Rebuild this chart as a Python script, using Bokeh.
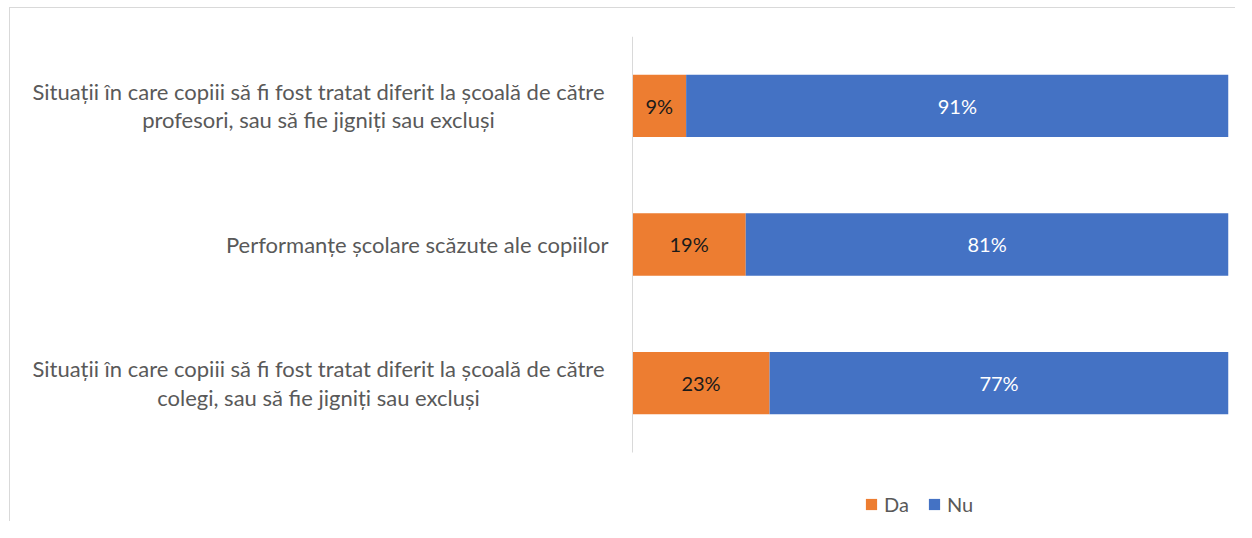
from bokeh.plotting import figure
from bokeh.models import (ColumnDataSource, Range1d, Legend, LegendItem, FixedTicker,
                          CDSView, IndexFilter)
from bokeh.core.properties import value
from bokeh.embed import file_html
from bokeh.resources import INLINE

# bottom -> top
categories = [
    "Situații în care copiii să fi fost tratat diferit la școală de către\ncolegi, sau să fie jigniți sau excluși",
    "Performanțe școlare scăzute ale copiilor",
    "Situații în care copiii să fi fost tratat diferit la școală de către\nprofesori, sau să fie jigniți sau excluși",
]
da = [23, 19, 9]
nu = [77, 81, 91]
series = ["Da", "Nu"]
colors = ["#ED7D31", "#4472C4"]

FONT = "Lato"
n = len(categories)

src = ColumnDataSource(dict(
    y=[i + 0.5 for i in range(n)],
    x0=[0] * n,
    cat=categories,
    Da=da,
    Nu=nu,
    da_mid=[d / 2 for d in da],
    nu_mid=[d + v / 2 for d, v in zip(da, nu)],
    da_lab=[f"{d}%" for d in da],
    nu_lab=[f"{v}%" for v in nu],
))

p = figure(
    width=1226, height=514,
    y_range=Range1d(-0.505, n),
    x_range=Range1d(-104.36, 100),
    output_backend="svg", toolbar_location=None,
    min_border_left=0, min_border_right=8, min_border_top=28, min_border_bottom=0,
)
p.styles = {"margin-left": "9px", "margin-top": "7px",
            "border-left": "1px solid #d9d9d9", "border-top": "1px solid #d9d9d9"}
p.outline_line_color = None
p.xgrid.visible = False
p.ygrid.visible = False
p.xaxis.visible = False

rs = p.hbar_stack(series, y="y", height=0.45, color=colors, source=src, line_color=None)

p.text(x="da_mid", y="y", text="da_lab", source=src, text_align="center", text_baseline="middle",
       text_font=value(FONT), text_font_size="20px", text_color="#1a1a1a")
p.text(x="nu_mid", y="y", text="nu_lab", source=src, text_align="center", text_baseline="middle",
       text_font=value(FONT), text_font_size="20px", text_color="#ffffff")

# category labels: multi-line ones centred as a block, single-line ones right-aligned
multi = [i for i, c in enumerate(categories) if "\n" in c]
single = [i for i, c in enumerate(categories) if "\n" not in c]
p.text(x="x0", y="y", text="cat", source=src, view=CDSView(filter=IndexFilter(multi)),
       text_align="center", text_baseline="middle", x_offset=-314, text_line_height=1.05,
       text_font=value(FONT), text_font_size="22px", text_color="#595959")
p.text(x="x0", y="y", text="cat", source=src, view=CDSView(filter=IndexFilter(single)),
       text_align="right", text_baseline="middle", x_offset=-24,
       text_font=value(FONT), text_font_size="22px", text_color="#595959")

ya = p.yaxis[0]
ya.fixed_location = 0
ya.bounds = (0, n)
ya.ticker = FixedTicker(ticks=[])
ya.axis_line_color = "#d9d9d9"
ya.axis_line_width = 1
ya.major_tick_line_color = None
ya.minor_tick_line_color = None
ya.major_label_text_font_size = "0px"

legend = Legend(
    items=[LegendItem(label=s, renderers=[r]) for s, r in zip(series, rs)],
    orientation="horizontal", location=(854, 6),
    label_text_font=FONT, label_text_font_size="20px", label_text_color="#595959",
    glyph_width=14, glyph_height=14, spacing=18, label_standoff=6,
    border_line_color=None, background_fill_alpha=0, margin=0, padding=4,
)
p.add_layout(legend, "center")

open("out.html", "w").write(file_html(p, INLINE))
